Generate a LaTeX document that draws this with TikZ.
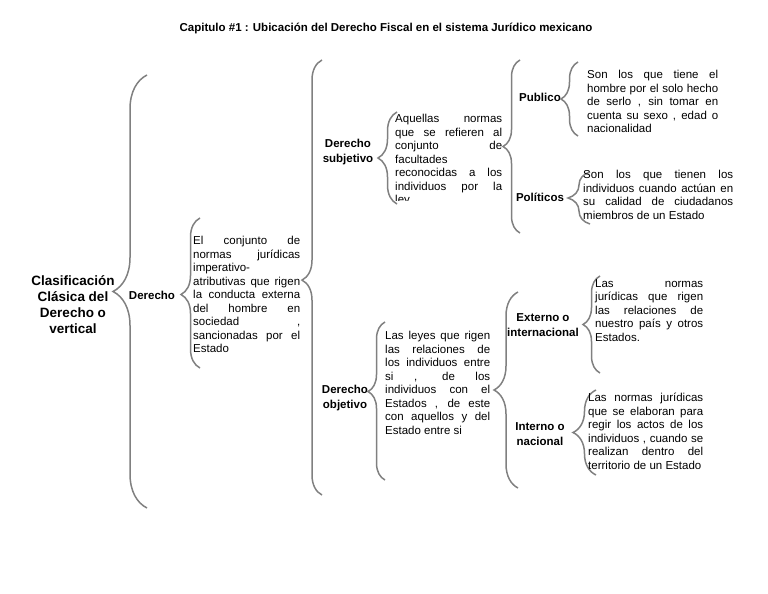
\documentclass[tikz,border=0pt]{standalone}
\usepackage{fontspec}
\setmainfont{Liberation Sans}
\usetikzlibrary{decorations.pathreplacing}
\definecolor{bracegray}{RGB}{128,128,128}

% justified line of a text box
\newlength{\jw}
\newcommand{\jl}[1]{\makebox[\jw][s]{#1}\\}

\begin{document}
\begin{tikzpicture}[x=1pt, y=-1pt,
  brc/.style 2 args={decorate, decoration={brace, amplitude=#1, aspect=#2},
    draw=bracegray, line width=1.5pt},
  lbl/.style={font=\bfseries\fontsize{11.5}{14.5}\selectfont, align=center, inner sep=0pt},
  txt/.style={font=\fontsize{11.5}{13.5}\selectfont, text width=#1, align=justify,
    inner sep=0pt, anchor=north west, execute at begin node={\setlength{\jw}{#1}\hyphenpenalty=10000}}]

\useasboundingbox (0,0) rectangle (768,594);

%% ===================== Title =====================
\node[font=\bfseries\fontsize{11.5}{14}\selectfont] (title) at (386,28)
  {Capitulo \#1 : Ubicación del Derecho Fiscal en el sistema Jurídico mexicano};

%% ===================== Level 0 and 1 =====================
\node[lbl, font=\bfseries\fontsize{13.5}{16}\selectfont] (root) at (73,305)
  {Clasificación\\Clásica del\\Derecho o\\vertical};
\coordinate (b1t) at (147,75);
\coordinate (b1b) at (147,508);
\draw[brc={34pt}{0.5}] (b1b) -- (b1t);

\node[lbl] (der) at (152,295) {Derecho};
\coordinate (b2t) at (200,218);
\coordinate (b2b) at (200,368);
\draw[brc={19pt}{0.49}] (b2b) -- (b2t);

\node[txt=107pt] (derdef) at (193,236)
  {\jl{El conjunto de}\jl{normas jurídicas}imperativo-\\\jl{atributivas que rigen}%
   \jl{la conducta externa}\jl{del hombre en}\jl{sociedad ,}\jl{sancionadas por el}Estado};

%% ===================== Derecho subjetivo =====================
\coordinate (b3t) at (322,60);
\coordinate (b3b) at (322,495);
\draw[brc={20pt}{0.494}] (b3b) -- (b3t);

\node[lbl] (dsub) at (348,152) {Derecho\\subjetivo};
\coordinate (b4t) at (397,112);
\coordinate (b4b) at (397,204);
\draw[brc={19pt}{0.5}] (b4b) -- (b4t);

% text box cut at its lower edge
\begin{scope}
  \clip (390,100) rectangle (510,200.5);
  \node[txt=107pt] (subdef) at (395,114)
    {\jl{Aquellas normas}\jl{que se refieren al}\jl{conjunto de}facultades\\%
     \jl{reconocidas a los}\jl{individuos por la}ley};
\end{scope}

\coordinate (b5t) at (520,60);
\coordinate (b5b) at (520,233);
\draw[brc={17pt}{0.5}] (b5b) -- (b5t);

% Publico
\node[lbl] (pub) at (540,97) {Publico};
\coordinate (b6t) at (578,62);
\coordinate (b6b) at (578,136);
\draw[brc={17pt}{0.5}] (b6b) -- (b6t);
\node[txt=131pt] (pubdef) at (587,70)
  {\jl{Son los que tiene el}\jl{hombre por el solo hecho}\jl{de serlo , sin tomar en}%
   \jl{cuenta su sexo , edad o}nacionalidad};

% Politicos
\node[lbl] (pol) at (540,197) {Políticos};
\coordinate (b7t) at (590,172);
\coordinate (b7b) at (590,224);
\draw[brc={22pt}{0.5}] (b7b) -- (b7t);
\node[txt=150pt] (poldef) at (583,170)
  {\jl{Son los que tienen los}\jl{individuos cuando actúan en}\jl{su calidad de ciudadanos}%
   miembros de un Estado};

%% ===================== Derecho objetivo =====================
\node[lbl] (dobj) at (345,398) {Derecho\\objetivo};
\coordinate (b8t) at (385,322);
\coordinate (b8b) at (385,480);
\draw[brc={17pt}{0.56}] (b8b) -- (b8t);

\node[txt=105pt] (objdef) at (385,331)
  {\jl{Las leyes que rigen}\jl{las relaciones de}\jl{los individuos entre}\jl{si , de los}%
   \jl{individuos con el}\jl{Estados , de este}\jl{con aquellos y del}Estado entre si};

\coordinate (b9t) at (518,292);
\coordinate (b9b) at (518,488);
\draw[brc={24pt}{0.5}] (b9b) -- (b9t);

% Externo
\node[lbl] (ext) at (543,325) {Externo o\\internacional};
\coordinate (b10t) at (600,276);
\coordinate (b10b) at (600,373);
\draw[brc={17pt}{0.5}] (b10b) -- (b10t);
\node[txt=108pt] (extdef) at (595,279)
  {\jl{Las normas}\jl{jurídicas que rigen}\jl{las relaciones de}\jl{nuestro país y otros}Estados.};

% Interno
\node[lbl] (int) at (540,434) {Interno o\\nacional};
\coordinate (b11t) at (596,390);
\coordinate (b11b) at (596,475);
\draw[brc={23pt}{0.5}] (b11b) -- (b11t);
\node[txt=115pt] (intdef) at (588,393)
  {\jl{Las normas jurídicas}\jl{que se elaboran para}\jl{regir los actos de los}%
   \jl{individuos , cuando se}\jl{realizan dentro del}territorio de un Estado};

\end{tikzpicture}
\end{document}
